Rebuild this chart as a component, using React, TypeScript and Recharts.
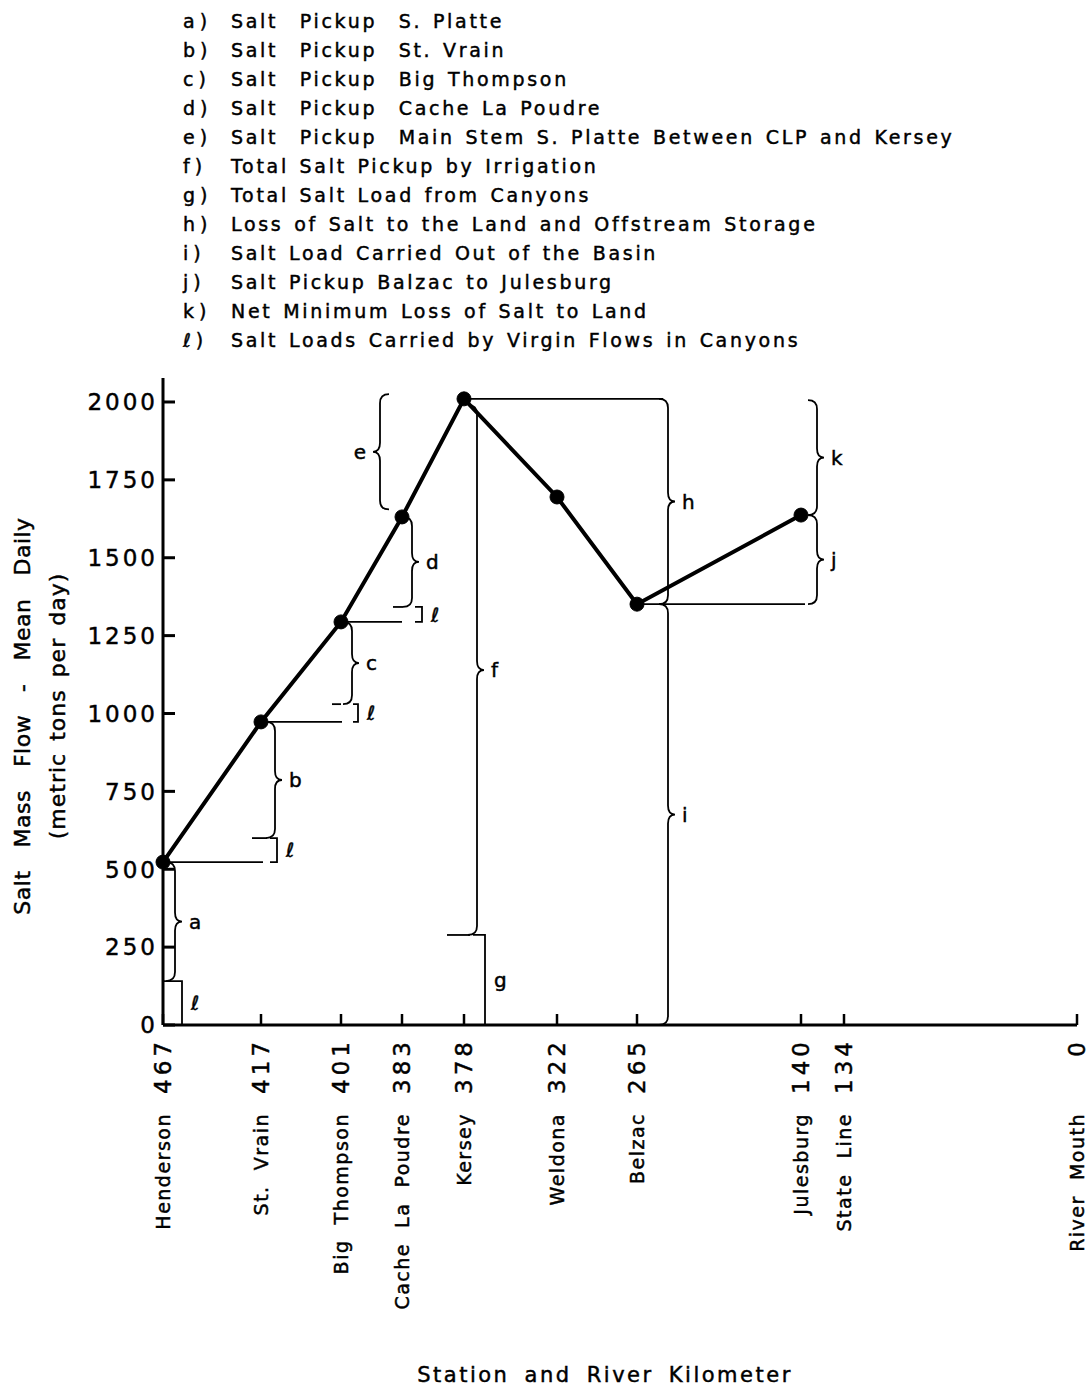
import { LineChart, Line, XAxis, YAxis, ReferenceLine } from "recharts";

const INK = "#000";
const FONT = "'DejaVu Sans', sans-serif";

// stations along the river, left = upstream
const stationNames = ["Henderson", "St.  Vrain", "Big  Thompson", "Cache  La  Poudre", "Kersey", "Weldona", "Belzac", "Julesburg", "State  Line", "River  Mouth"];
const riverKm = ["467", "417", "401", "383", "378", "322", "265", "140", "134", "0"];
// schematic spacing of the stations on the drawing (not to scale in km)
const stationPos = [0, 98, 178, 239, 301, 394, 474, 638, 681, 914];
// salt mass flow, metric tons per day
const saltLoad = [523, 973, 1294, 1631, 2010, 1695, 1351, 1637, null, null];
const loadTicks = [0, 250, 500, 750, 1000, 1250, 1500, 1750, 2000];

const keyLetters = ["a)", "b)", "c)", "d)", "e)", "f)", "g)", "h)", "i)", "j)", "k)", "ℓ)"];
const keyTexts = [
  "Salt  Pickup  S. Platte",
  "Salt  Pickup  St. Vrain",
  "Salt  Pickup  Big Thompson",
  "Salt  Pickup  Cache La Poudre",
  "Salt  Pickup  Main Stem S. Platte Between CLP and Kersey",
  "Total Salt Pickup by Irrigation",
  "Total Salt Load from Canyons",
  "Loss of Salt to the Land and Offstream Storage",
  "Salt Load Carried Out of the Basin",
  "Salt Pickup Balzac to Julesburg",
  "Net Minimum Loss of Salt to Land",
  "Salt Loads Carried by Virgin Flows in Canyons",
];

// thin horizontal leader lines and dashes: level, from, to
const leaders = [
  { y: 523, from: 0, to: 100 },
  { y: 973, from: 98, to: 179 },
  { y: 1294, from: 178, to: 239 },
  { y: 2010, from: 301, to: 500 },
  { y: 1351, from: 474, to: 642 },
  { y: 600, from: 89, to: 104 },
  { y: 1030, from: 169, to: 178 },
  { y: 1342, from: 230, to: 240 },
  { y: 289, from: 284, to: 307 },
];

// curly braces: spine position, span, tip side
const braces = [
  { label: "a", x: 12, top: 523, bottom: 141, dir: 1 },
  { label: "b", x: 112, top: 973, bottom: 600, dir: 1 },
  { label: "c", x: 189, top: 1294, bottom: 1030, dir: 1 },
  { label: "d", x: 249, top: 1631, bottom: 1342, dir: 1 },
  { label: "e", x: 217, top: 2025, bottom: 1655, dir: -1 },
  { label: "f", x: 314, top: 1990, bottom: 289, dir: 1 },
  { label: "h", x: 505, top: 2010, bottom: 1351, dir: 1 },
  { label: "i", x: 505, top: 1351, bottom: 0, dir: 1 },
  { label: "j", x: 654, top: 1637, bottom: 1351, dir: 1 },
  { label: "k", x: 654, top: 2006, bottom: 1637, dir: 1 },
];

// square brackets "]" : stub start, vertical, span
const brackets = [
  { label: "ℓ", x1: 0, x2: 19, top: 141, bottom: 0 },
  { label: "ℓ", x1: 107, x2: 114, top: 600, bottom: 523 },
  { label: "ℓ", x1: 190, x2: 195, top: 1030, bottom: 973 },
  { label: "ℓ", x1: 252, x2: 259, top: 1342, bottom: 1294 },
  { label: "g", x1: 310, x2: 322, top: 289, bottom: 0 },
];

const data = stationPos.map((pos, i) => ({ pos, load: saltLoad[i] }));

function bracePath(x: number, ya: number, yb: number, dir: number) {
  const s = yb > ya ? 1 : -1;
  const r = Math.min(9, Math.abs(yb - ya) / 4);
  const w = 9;
  const t = 7;
  const ym = (ya + yb) / 2;
  return `M${x - dir * w},${ya} Q${x},${ya} ${x},${ya + s * r} L${x},${ym - s * r} Q${x},${ym} ${x + dir * t},${ym} Q${x},${ym} ${x},${ym + s * r} L${x},${yb - s * r} Q${x},${yb} ${x - dir * w},${yb}`;
}

// the lettering in the original is a bit heavier than DejaVu Book
const heavy = { stroke: INK, strokeWidth: 0.45 };
const labelStyle = { fontFamily: FONT, fontSize: 20, fill: INK, ...heavy };

function YTick(props: any) {
  const { x, y, payload } = props;
  return (
    <g>
      <line x1={x} y1={y} x2={x + 12} y2={y} stroke={INK} strokeWidth={3} />
      <text x={x - 5} y={y} dy="0.36em" textAnchor="end" fontFamily={FONT} fontSize={23} letterSpacing={3} fill={INK} {...heavy}>
        {payload.value}
      </text>
    </g>
  );
}

function XTick(props: any) {
  const { x, y, payload } = props;
  const i = stationPos.indexOf(payload.value);
  if (i < 0) return null;
  return (
    <g>
      <line x1={x} y1={y} x2={x} y2={y - 11} stroke={INK} strokeWidth={2.5} />
      <text transform={`translate(${x},${y + 13}) rotate(-90)`} dy="0.36em" textAnchor="end" fontFamily={FONT} fontSize={23} letterSpacing={4} fill={INK} {...heavy}>
        {riverKm[i]}
      </text>
      <text transform={`translate(${x},${y + 88}) rotate(-90)`} dy="0.36em" textAnchor="end" fontFamily={FONT} fontSize={19} letterSpacing={1.5} fill={INK} {...heavy} style={{ whiteSpace: "pre" }}>
        {stationNames[i]}
      </text>
    </g>
  );
}

export default function App() {
  return (
    <div style={{ position: "absolute", left: 0, top: 0, width: 1090, height: 1387, background: "#fff" }}>
      <LineChart width={1090} height={1387} data={data} margin={{ top: 378, right: 13, bottom: 10, left: 103 }}>
        <XAxis
          dataKey="pos"
          type="number"
          domain={[0, 914]}
          ticks={stationPos}
          interval={0}
          height={352}
          tickSize={0}
          tickMargin={0}
          tickLine={false}
          axisLine={{ stroke: INK, strokeWidth: 3 }}
          tick={<XTick />}
        />
        <YAxis
          type="number"
          domain={[0, 2077]}
          ticks={loadTicks}
          interval={0}
          width={60}
          tickSize={0}
          tickMargin={0}
          tickLine={false}
          axisLine={{ stroke: INK, strokeWidth: 3 }}
          tick={<YTick />}
        />
        {leaders.map((l, i) => (
          <ReferenceLine key={`ld${i}`} segment={[{ x: l.from, y: l.y }, { x: l.to, y: l.y }]} stroke={INK} strokeWidth={1.8} />
        ))}
        {braces.map((b, i) => (
          <ReferenceLine
            key={`br${i}`}
            segment={[{ x: b.x, y: b.top }, { x: b.x, y: b.bottom }]}
            shape={(p: any) => (
              <g>
                <path d={bracePath(p.x1, p.y1, p.y2, b.dir)} fill="none" stroke={INK} strokeWidth={1.8} />
                <text x={p.x1 + b.dir * 14} y={(p.y1 + p.y2) / 2} dy="0.36em" textAnchor={b.dir > 0 ? "start" : "end"} {...labelStyle}>
                  {b.label}
                </text>
              </g>
            )}
          />
        ))}
        {brackets.map((b, i) => (
          <ReferenceLine
            key={`bk${i}`}
            segment={[{ x: b.x1, y: b.top }, { x: b.x2, y: b.bottom }]}
            shape={(p: any) => (
              <g>
                <path d={`M${p.x1},${p.y1} H${p.x2} V${p.y2} H${p.x1}`} fill="none" stroke={INK} strokeWidth={1.8} />
                <text x={p.x2 + 9} y={(p.y1 + p.y2) / 2} dy="0.36em" textAnchor="start" {...labelStyle}>
                  {b.label}
                </text>
              </g>
            )}
          />
        ))}
        <Line
          type="linear"
          dataKey="load"
          stroke={INK}
          strokeWidth={4}
          dot={{ r: 7, fill: INK, stroke: INK, strokeWidth: 1 }}
          isAnimationActive={false}
        />
      </LineChart>
      <svg width={1090} height={1387} style={{ position: "absolute", left: 0, top: 0, pointerEvents: "none" }}>
        {keyLetters.map((k, i) => (
          <g key={k} fontFamily={FONT} fontSize={19} fill={INK} {...heavy}>
            <text x={183} y={28 + 29 * i} letterSpacing={5}>{k}</text>
            <text x={231} y={28 + 29 * i} letterSpacing={2.7} wordSpacing={2} style={{ whiteSpace: "pre" }}>{keyTexts[i]}</text>
          </g>
        ))}
        <text transform="translate(30,716) rotate(-90)" textAnchor="middle" fontFamily={FONT} fontSize={22} letterSpacing={0.5} wordSpacing={4} fill={INK} {...heavy} style={{ whiteSpace: "pre" }}>
          Salt  Mass  Flow  -  Mean  Daily
        </text>
        <text transform="translate(65,706) rotate(-90)" textAnchor="middle" fontFamily={FONT} fontSize={22} letterSpacing={1} wordSpacing={4} fill={INK} {...heavy}>
          (metric tons per day)
        </text>
        <text x={605} y={1382} textAnchor="middle" fontFamily={FONT} fontSize={21} letterSpacing={2.5} wordSpacing={6} fill={INK} {...heavy}>
          Station and River Kilometer
        </text>
      </svg>
    </div>
  );
}
